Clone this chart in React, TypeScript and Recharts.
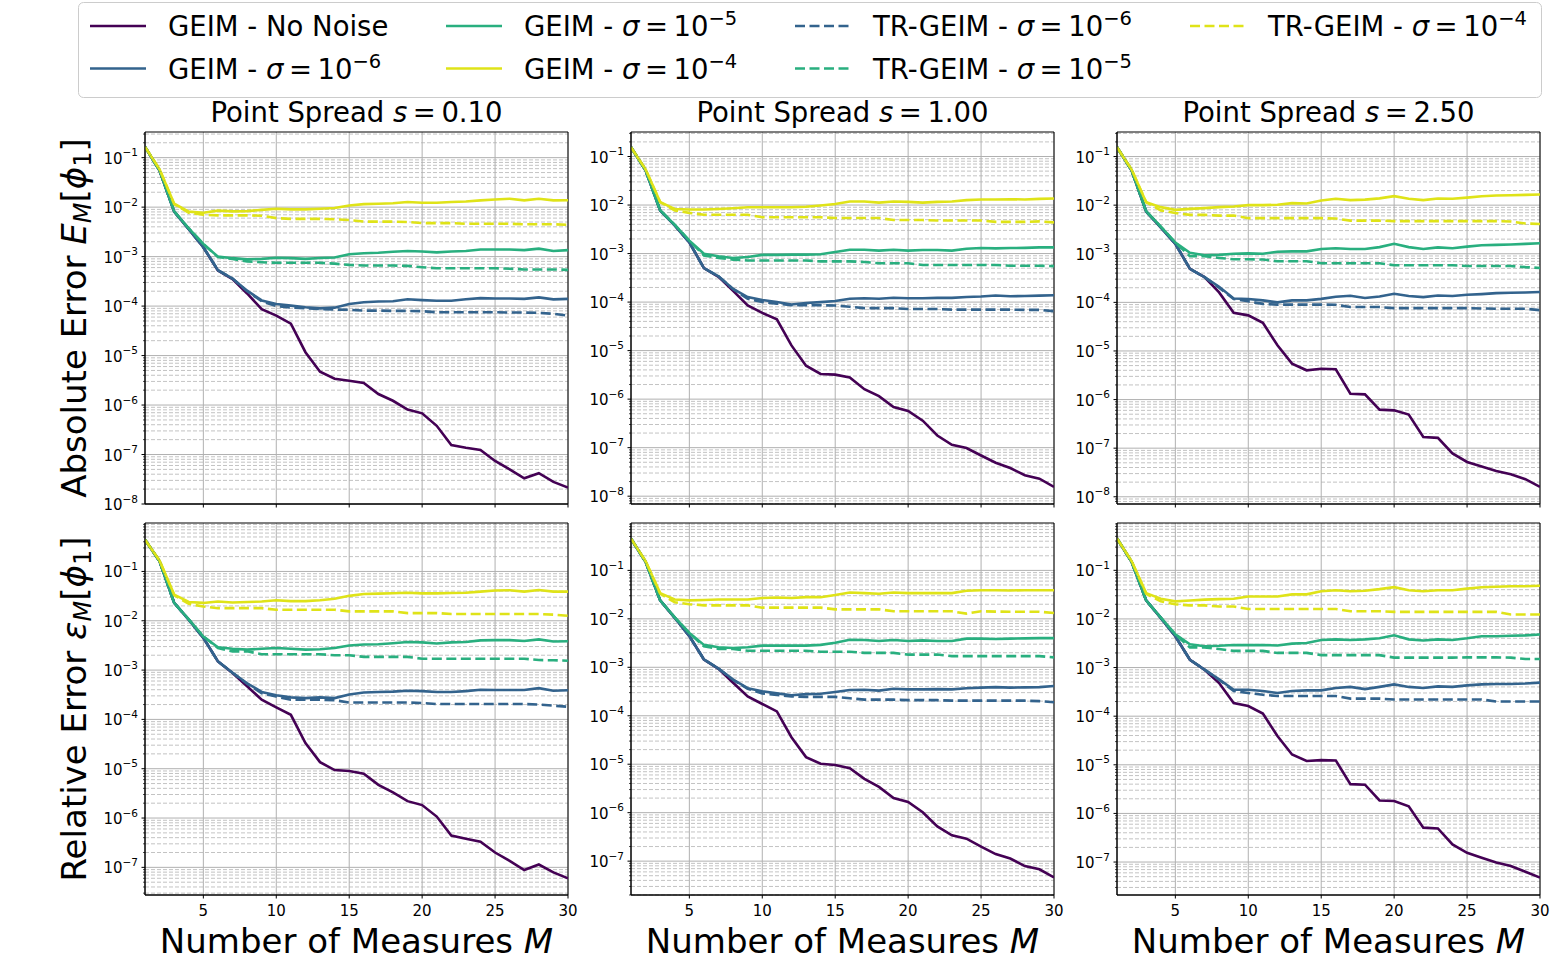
import React from "react";
import { CartesianGrid, Line, LineChart, ReferenceArea, XAxis, YAxis } from "recharts";

const FONT = "'DejaVu Sans', sans-serif";

// number of measures M
const M_VALUES = Array.from({ length: 30 }, (_, i) => i + 1);
const X_TICKS = [5, 10, 15, 20, 25, 30];
const SPREADS = ["0.10", "1.00", "2.50"];

// ---- absolute error, s = 0.10
const abs010NoNoise = [0.165, 0.055, 0.0081, 0.0036, 0.00155, 5.2e-4, 3.5e-4, 1.8e-4, 8.7e-5, 6.4e-5,
  4.4e-5, 1.17e-5, 4.7e-6, 3.4e-6, 3.1e-6, 2.8e-6, 1.67e-6, 1.22e-6, 8.1e-7, 6.8e-7,
  3.8e-7, 1.55e-7, 1.37e-7, 1.23e-7, 7.4e-8, 5.0e-8, 3.3e-8, 4.2e-8, 2.8e-8, 2.15e-8];
const abs010Geim6 = [0.165, 0.055, 0.0081, 0.0036, 0.00155, 5.3e-4, 3.6e-4, 2.05e-4, 1.3e-4, 1.1e-4,
  1.02e-4, 9.5e-5, 9.0e-5, 9.3e-5, 1.1e-4, 1.2e-4, 1.24e-4, 1.25e-4, 1.37e-4, 1.32e-4,
  1.28e-4, 1.28e-4, 1.37e-4, 1.45e-4, 1.42e-4, 1.42e-4, 1.4e-4, 1.5e-4, 1.37e-4, 1.4e-4];
const abs010Geim5 = [0.165, 0.055, 0.0082, 0.0037, 0.0018, 1.0e-3, 9.3e-4, 8.8e-4, 9.0e-4, 9.5e-4,
  9.3e-4, 9.0e-4, 9.4e-4, 9.6e-4, 1.12e-3, 1.17e-3, 1.2e-3, 1.25e-3, 1.3e-3, 1.27e-3,
  1.22e-3, 1.27e-3, 1.3e-3, 1.39e-3, 1.39e-3, 1.39e-3, 1.35e-3, 1.45e-3, 1.3e-3, 1.35e-3];
const abs010Geim4 = [0.165, 0.058, 0.0117, 0.0081, 0.0077, 0.0085, 0.0082, 0.0083, 0.0088, 0.0093,
  0.009, 0.009, 0.0093, 0.0096, 0.0108, 0.0115, 0.0117, 0.012, 0.0127, 0.0123,
  0.0123, 0.0127, 0.013, 0.0137, 0.0143, 0.0148, 0.0137, 0.0148, 0.0137, 0.0138];
const abs010Tr6 = [0.165, 0.055, 0.0081, 0.0036, 0.00155, 5.3e-4, 3.6e-4, 2.0e-4, 1.25e-4, 1.0e-4,
  9.3e-5, 9.0e-5, 8.7e-5, 8.5e-5, 8.4e-5, 8.1e-5, 8.1e-5, 8.0e-5, 8.0e-5, 7.9e-5,
  7.5e-5, 7.5e-5, 7.5e-5, 7.5e-5, 7.5e-5, 7.4e-5, 7.4e-5, 7.3e-5, 7.0e-5, 6.4e-5];
const abs010Tr5 = [0.165, 0.055, 0.0082, 0.0037, 0.0018, 9.8e-4, 9.0e-4, 8.0e-4, 7.7e-4, 7.5e-4,
  7.5e-4, 7.5e-4, 7.5e-4, 7.2e-4, 6.8e-4, 6.6e-4, 6.6e-4, 6.6e-4, 6.5e-4, 6.1e-4,
  5.8e-4, 5.8e-4, 5.8e-4, 5.8e-4, 5.8e-4, 5.7e-4, 5.5e-4, 5.5e-4, 5.5e-4, 5.4e-4];
const abs010Tr4 = [0.165, 0.058, 0.0115, 0.0077, 0.007, 0.0068, 0.0068, 0.0068, 0.0067, 0.006,
  0.0058, 0.0058, 0.0058, 0.0057, 0.0055, 0.0051, 0.0051, 0.0051, 0.005, 0.00475,
  0.00475, 0.00475, 0.0046, 0.0046, 0.0046, 0.0046, 0.0045, 0.0045, 0.0045, 0.0044];

// ---- absolute error, s = 1.00
const abs100NoNoise = [0.155, 0.052, 0.0077, 0.0038, 0.0017, 5.0e-4, 3.3e-4, 1.7e-4, 8.5e-5, 6.0e-5,
  4.4e-5, 1.28e-5, 4.9e-6, 3.3e-6, 3.2e-6, 2.8e-6, 1.6e-6, 1.15e-6, 6.9e-7, 5.7e-7,
  3.6e-7, 1.78e-7, 1.14e-7, 9.8e-8, 6.9e-8, 4.9e-8, 3.8e-8, 2.7e-8, 2.3e-8, 1.55e-8];
const abs100Geim6 = [0.155, 0.052, 0.0077, 0.0038, 0.0017, 5.0e-4, 3.4e-4, 1.87e-4, 1.27e-4, 1.1e-4,
  1.0e-4, 8.9e-5, 9.6e-5, 1.0e-4, 1.05e-4, 1.17e-4, 1.2e-4, 1.17e-4, 1.23e-4, 1.2e-4,
  1.2e-4, 1.22e-4, 1.22e-4, 1.27e-4, 1.3e-4, 1.37e-4, 1.32e-4, 1.33e-4, 1.36e-4, 1.38e-4];
const abs100Geim5 = [0.155, 0.052, 0.0078, 0.0039, 0.00185, 9.9e-4, 8.8e-4, 8.1e-4, 8.5e-4, 9.4e-4,
  9.4e-4, 9.5e-4, 9.5e-4, 9.7e-4, 1.08e-3, 1.2e-3, 1.2e-3, 1.15e-3, 1.2e-3, 1.15e-3,
  1.18e-3, 1.18e-3, 1.15e-3, 1.26e-3, 1.3e-3, 1.28e-3, 1.3e-3, 1.31e-3, 1.34e-3, 1.34e-3];
const abs100Geim4 = [0.155, 0.054, 0.0115, 0.0083, 0.0081, 0.0081, 0.0083, 0.0086, 0.009, 0.009,
  0.009, 0.009, 0.0092, 0.0098, 0.0105, 0.0118, 0.0118, 0.0112, 0.0118, 0.0116,
  0.0112, 0.0116, 0.0118, 0.0126, 0.013, 0.013, 0.0132, 0.013, 0.0134, 0.0136];
const abs100Tr6 = [0.155, 0.052, 0.0077, 0.0038, 0.0017, 5.0e-4, 3.4e-4, 1.85e-4, 1.17e-4, 1.0e-4,
  9.3e-5, 8.6e-5, 8.6e-5, 8.6e-5, 8.5e-5, 8.0e-5, 7.5e-5, 7.5e-5, 7.5e-5, 7.2e-5,
  7.2e-5, 7.2e-5, 7.0e-5, 7.0e-5, 7.0e-5, 7.0e-5, 7.0e-5, 6.9e-5, 6.9e-5, 6.5e-5];
const abs100Tr5 = [0.155, 0.052, 0.0078, 0.0039, 0.00185, 9.1e-4, 8.1e-4, 7.5e-4, 7.2e-4, 7.2e-4,
  7.2e-4, 7.2e-4, 7.2e-4, 6.9e-4, 6.9e-4, 6.9e-4, 6.7e-4, 6.3e-4, 6.3e-4, 6.3e-4,
  5.8e-4, 5.8e-4, 5.8e-4, 5.8e-4, 5.8e-4, 5.8e-4, 5.6e-4, 5.6e-4, 5.6e-4, 5.5e-4];
const abs100Tr4 = [0.155, 0.054, 0.0115, 0.0077, 0.0069, 0.0063, 0.0063, 0.0063, 0.0063, 0.0056,
  0.0056, 0.0056, 0.0056, 0.0056, 0.0054, 0.0054, 0.0054, 0.0054, 0.0049, 0.0049,
  0.0049, 0.0048, 0.0048, 0.0048, 0.0048, 0.0045, 0.0045, 0.0045, 0.0046, 0.0044];

// ---- absolute error, s = 2.50
const abs250NoNoise = [0.155, 0.052, 0.0074, 0.0035, 0.0016, 4.9e-4, 3.3e-4, 1.6e-4, 6.1e-5, 5.4e-5,
  3.8e-5, 1.31e-5, 5.5e-6, 4.0e-6, 4.3e-6, 4.2e-6, 1.32e-6, 1.28e-6, 6.2e-7, 6.0e-7,
  4.9e-7, 1.7e-7, 1.63e-7, 7.8e-8, 5.2e-8, 4.2e-8, 3.4e-8, 2.9e-8, 2.3e-8, 1.6e-8];
const abs250Geim6 = [0.155, 0.052, 0.0074, 0.0035, 0.0016, 4.9e-4, 3.3e-4, 2.1e-4, 1.2e-4, 1.17e-4,
  1.1e-4, 1.0e-4, 1.1e-4, 1.1e-4, 1.18e-4, 1.3e-4, 1.37e-4, 1.23e-4, 1.32e-4, 1.5e-4,
  1.35e-4, 1.28e-4, 1.38e-4, 1.35e-4, 1.43e-4, 1.48e-4, 1.55e-4, 1.58e-4, 1.6e-4, 1.63e-4];
const abs250Geim5 = [0.155, 0.052, 0.0075, 0.0036, 0.0017, 1.05e-3, 9.3e-4, 9.5e-4, 1.0e-3, 1.02e-3,
  1.0e-3, 1.1e-3, 1.12e-3, 1.12e-3, 1.25e-3, 1.3e-3, 1.25e-3, 1.25e-3, 1.37e-3, 1.6e-3,
  1.37e-3, 1.25e-3, 1.35e-3, 1.3e-3, 1.4e-3, 1.5e-3, 1.52e-3, 1.55e-3, 1.6e-3, 1.65e-3];
const abs250Geim4 = [0.155, 0.054, 0.0115, 0.0091, 0.008, 0.0084, 0.0087, 0.0091, 0.0094, 0.01,
  0.01, 0.0102, 0.011, 0.0108, 0.0125, 0.0135, 0.0127, 0.013, 0.0138, 0.0153,
  0.0135, 0.0127, 0.0137, 0.0135, 0.0143, 0.0153, 0.0158, 0.016, 0.0163, 0.0166];
const abs250Tr6 = [0.155, 0.052, 0.0074, 0.0035, 0.0016, 4.9e-4, 3.3e-4, 2.0e-4, 1.17e-4, 1.05e-4,
  9.3e-5, 9.0e-5, 9.0e-5, 9.0e-5, 9.0e-5, 8.9e-5, 8.0e-5, 8.0e-5, 8.0e-5, 7.6e-5,
  7.6e-5, 7.6e-5, 7.6e-5, 7.6e-5, 7.6e-5, 7.5e-5, 7.4e-5, 7.4e-5, 7.4e-5, 6.9e-5];
const abs250Tr5 = [0.155, 0.052, 0.0075, 0.0036, 0.0017, 8.9e-4, 8.9e-4, 8.2e-4, 7.7e-4, 7.7e-4,
  7.6e-4, 7.0e-4, 7.0e-4, 7.0e-4, 6.4e-4, 6.4e-4, 6.4e-4, 6.4e-4, 6.4e-4, 5.8e-4,
  5.8e-4, 5.8e-4, 5.8e-4, 5.8e-4, 5.6e-4, 5.6e-4, 5.6e-4, 5.6e-4, 5.3e-4, 5.1e-4];
const abs250Tr4 = [0.155, 0.054, 0.0115, 0.0078, 0.0069, 0.0063, 0.0063, 0.0061, 0.0061, 0.0054,
  0.0054, 0.0054, 0.0054, 0.0054, 0.0054, 0.0053, 0.0048, 0.0048, 0.0048, 0.0047,
  0.0047, 0.0047, 0.0047, 0.0047, 0.0047, 0.0047, 0.0047, 0.0046, 0.0042, 0.0041];

// ---- relative error, s = 0.10
const rel010NoNoise = [0.44, 0.16, 0.023, 0.0105, 0.0045, 1.5e-3, 8.7e-4, 4.7e-4, 2.5e-4, 1.75e-4,
  1.24e-4, 3.3e-5, 1.36e-5, 9.4e-6, 9.0e-6, 7.9e-6, 4.7e-6, 3.3e-6, 2.2e-6, 1.83e-6,
  1.07e-6, 4.4e-7, 3.8e-7, 3.3e-7, 2.0e-7, 1.35e-7, 8.8e-8, 1.14e-7, 7.9e-8, 6.0e-8];
const rel010Geim6 = [0.44, 0.16, 0.023, 0.0105, 0.0045, 1.5e-3, 8.8e-4, 5.4e-4, 3.6e-4, 3.1e-4,
  2.8e-4, 2.7e-4, 2.8e-4, 2.7e-4, 3.2e-4, 3.5e-4, 3.6e-4, 3.65e-4, 3.8e-4, 3.75e-4,
  3.6e-4, 3.6e-4, 3.75e-4, 4.0e-4, 3.95e-4, 3.95e-4, 3.95e-4, 4.3e-4, 3.8e-4, 3.9e-4];
const rel010Geim5 = [0.44, 0.16, 0.023, 0.0107, 0.0048, 2.9e-3, 2.7e-3, 2.6e-3, 2.7e-3, 2.8e-3,
  2.7e-3, 2.6e-3, 2.65e-3, 2.8e-3, 3.15e-3, 3.3e-3, 3.35e-3, 3.5e-3, 3.7e-3, 3.65e-3,
  3.45e-3, 3.65e-3, 3.7e-3, 4.0e-3, 4.05e-3, 4.05e-3, 3.9e-3, 4.2e-3, 3.8e-3, 3.85e-3];
const rel010Geim4 = [0.44, 0.165, 0.034, 0.024, 0.023, 0.0245, 0.0235, 0.024, 0.0245, 0.026,
  0.025, 0.025, 0.026, 0.028, 0.032, 0.035, 0.0355, 0.036, 0.037, 0.036,
  0.036, 0.0365, 0.037, 0.039, 0.041, 0.0415, 0.039, 0.042, 0.039, 0.039];
const rel010Tr6 = [0.44, 0.16, 0.023, 0.0105, 0.0045, 1.5e-3, 8.8e-4, 5.3e-4, 3.4e-4, 2.9e-4,
  2.5e-4, 2.5e-4, 2.5e-4, 2.45e-4, 2.2e-4, 2.2e-4, 2.2e-4, 2.2e-4, 2.2e-4, 2.15e-4,
  2.05e-4, 2.05e-4, 2.05e-4, 2.05e-4, 2.05e-4, 2.05e-4, 2.05e-4, 2.0e-4, 1.9e-4, 1.8e-4];
const rel010Tr5 = [0.44, 0.16, 0.023, 0.0107, 0.0048, 2.8e-3, 2.4e-3, 2.4e-3, 2.1e-3, 2.1e-3,
  2.1e-3, 2.1e-3, 2.1e-3, 2.0e-3, 2.0e-3, 1.85e-3, 1.85e-3, 1.85e-3, 1.85e-3, 1.7e-3,
  1.7e-3, 1.7e-3, 1.7e-3, 1.7e-3, 1.7e-3, 1.7e-3, 1.7e-3, 1.6e-3, 1.58e-3, 1.55e-3];
const rel010Tr4 = [0.44, 0.165, 0.033, 0.022, 0.0195, 0.018, 0.018, 0.018, 0.018, 0.0167,
  0.0167, 0.0167, 0.0167, 0.0167, 0.0155, 0.0155, 0.0155, 0.0155, 0.0143, 0.0143,
  0.0143, 0.0137, 0.0137, 0.0137, 0.0137, 0.0137, 0.0137, 0.0137, 0.0133, 0.0126];

// ---- relative error, s = 1.00
const rel100NoNoise = [0.45, 0.15, 0.024, 0.0105, 0.0044, 1.45e-3, 9.3e-4, 4.8e-4, 2.5e-4, 1.75e-4,
  1.23e-4, 3.6e-5, 1.4e-5, 1.02e-5, 9.6e-6, 8.3e-6, 5.0e-6, 3.4e-6, 2.0e-6, 1.66e-6,
  1.02e-6, 5.2e-7, 3.4e-7, 2.9e-7, 2.0e-7, 1.4e-7, 1.13e-7, 7.9e-8, 6.8e-8, 4.6e-8];
const rel100Geim6 = [0.45, 0.15, 0.024, 0.0105, 0.0044, 1.45e-3, 9.4e-4, 5.6e-4, 3.7e-4, 3.2e-4,
  2.9e-4, 2.65e-4, 2.8e-4, 2.85e-4, 3.1e-4, 3.4e-4, 3.45e-4, 3.3e-4, 3.6e-4, 3.5e-4,
  3.5e-4, 3.55e-4, 3.5e-4, 3.7e-4, 3.8e-4, 3.9e-4, 3.8e-4, 3.85e-4, 3.9e-4, 4.1e-4];
const rel100Geim5 = [0.45, 0.15, 0.024, 0.0107, 0.0051, 2.9e-3, 2.6e-3, 2.5e-3, 2.6e-3, 2.8e-3,
  2.8e-3, 2.8e-3, 2.8e-3, 2.9e-3, 3.2e-3, 3.7e-3, 3.65e-3, 3.5e-3, 3.65e-3, 3.5e-3,
  3.6e-3, 3.5e-3, 3.5e-3, 3.9e-3, 3.9e-3, 3.85e-3, 3.9e-3, 3.95e-3, 4.0e-3, 4.0e-3];
const rel100Geim4 = [0.45, 0.155, 0.034, 0.025, 0.024, 0.0245, 0.025, 0.025, 0.025, 0.027,
  0.0275, 0.027, 0.028, 0.028, 0.031, 0.035, 0.034, 0.033, 0.035, 0.034,
  0.034, 0.034, 0.034, 0.038, 0.039, 0.039, 0.0385, 0.039, 0.039, 0.039];
const rel100Tr6 = [0.45, 0.15, 0.024, 0.0105, 0.0044, 1.45e-3, 9.4e-4, 5.5e-4, 3.6e-4, 2.9e-4,
  2.7e-4, 2.5e-4, 2.45e-4, 2.45e-4, 2.45e-4, 2.3e-4, 2.15e-4, 2.15e-4, 2.15e-4, 2.1e-4,
  2.1e-4, 2.1e-4, 2.05e-4, 2.05e-4, 2.05e-4, 2.05e-4, 2.05e-4, 2.05e-4, 2.0e-4, 1.9e-4];
const rel100Tr5 = [0.45, 0.15, 0.024, 0.0107, 0.0051, 2.7e-3, 2.4e-3, 2.4e-3, 2.2e-3, 2.2e-3,
  2.2e-3, 2.2e-3, 2.2e-3, 2.1e-3, 2.1e-3, 2.1e-3, 1.98e-3, 1.98e-3, 1.98e-3, 1.83e-3,
  1.83e-3, 1.83e-3, 1.7e-3, 1.7e-3, 1.7e-3, 1.7e-3, 1.7e-3, 1.7e-3, 1.7e-3, 1.6e-3];
const rel100Tr4 = [0.45, 0.155, 0.033, 0.022, 0.02, 0.019, 0.019, 0.019, 0.019, 0.017,
  0.017, 0.017, 0.017, 0.017, 0.0157, 0.0157, 0.0157, 0.0157, 0.0143, 0.0143,
  0.0143, 0.0143, 0.0143, 0.0128, 0.0143, 0.0141, 0.014, 0.014, 0.014, 0.0132];

// ---- relative error, s = 2.50
const rel250NoNoise = [0.45, 0.15, 0.024, 0.0105, 0.0044, 1.45e-3, 9.0e-4, 4.8e-4, 1.87e-4, 1.62e-4,
  1.13e-4, 3.9e-5, 1.63e-5, 1.2e-5, 1.25e-5, 1.23e-5, 4.0e-6, 3.9e-6, 1.85e-6, 1.8e-6,
  1.4e-6, 5.1e-7, 4.9e-7, 2.3e-7, 1.55e-7, 1.23e-7, 9.8e-8, 8.3e-8, 6.3e-8, 4.8e-8];
const rel250Geim6 = [0.45, 0.15, 0.024, 0.0105, 0.0044, 1.45e-3, 9.1e-4, 5.7e-4, 3.5e-4, 3.5e-4,
  3.3e-4, 3.0e-4, 3.3e-4, 3.4e-4, 3.4e-4, 3.8e-4, 4.0e-4, 3.6e-4, 4.0e-4, 4.5e-4,
  4.0e-4, 3.8e-4, 4.1e-4, 4.0e-4, 4.3e-4, 4.5e-4, 4.6e-4, 4.6e-4, 4.7e-4, 4.9e-4];
const rel250Geim5 = [0.45, 0.15, 0.024, 0.0107, 0.0048, 3.0e-3, 2.75e-3, 2.8e-3, 2.9e-3, 2.9e-3,
  2.9e-3, 2.85e-3, 3.1e-3, 3.2e-3, 3.7e-3, 3.8e-3, 3.7e-3, 3.8e-3, 4.0e-3, 4.6e-3,
  3.8e-3, 3.6e-3, 3.8e-3, 3.7e-3, 4.0e-3, 4.4e-3, 4.4e-3, 4.5e-3, 4.6e-3, 4.8e-3];
const rel250Geim4 = [0.45, 0.155, 0.034, 0.026, 0.023, 0.024, 0.025, 0.0255, 0.026, 0.029,
  0.029, 0.029, 0.032, 0.032, 0.037, 0.039, 0.037, 0.038, 0.041, 0.045,
  0.039, 0.037, 0.039, 0.039, 0.042, 0.045, 0.046, 0.047, 0.047, 0.048];
const rel250Tr6 = [0.45, 0.15, 0.024, 0.0105, 0.0044, 1.45e-3, 9.1e-4, 5.6e-4, 3.3e-4, 3.0e-4,
  2.75e-4, 2.6e-4, 2.6e-4, 2.6e-4, 2.6e-4, 2.6e-4, 2.3e-4, 2.3e-4, 2.3e-4, 2.2e-4,
  2.2e-4, 2.2e-4, 2.2e-4, 2.2e-4, 2.2e-4, 2.2e-4, 2.0e-4, 2.0e-4, 2.0e-4, 2.0e-4];
const rel250Tr5 = [0.45, 0.15, 0.024, 0.0107, 0.0048, 2.6e-3, 2.6e-3, 2.4e-3, 2.2e-3, 2.2e-3,
  2.2e-3, 2.0e-3, 2.0e-3, 2.0e-3, 1.8e-3, 1.8e-3, 1.8e-3, 1.8e-3, 1.8e-3, 1.6e-3,
  1.6e-3, 1.6e-3, 1.6e-3, 1.6e-3, 1.62e-3, 1.62e-3, 1.62e-3, 1.6e-3, 1.5e-3, 1.5e-3];
const rel250Tr4 = [0.45, 0.155, 0.033, 0.023, 0.02, 0.019, 0.019, 0.018, 0.018, 0.016,
  0.016, 0.016, 0.016, 0.016, 0.016, 0.016, 0.0144, 0.0144, 0.0144, 0.014,
  0.014, 0.014, 0.014, 0.014, 0.014, 0.014, 0.014, 0.0123, 0.0123, 0.0123];

// series order = plotting order = legend order (column-major, 4 cols x 2 rows)
const SERIES = [
  { key: "noNoise", method: "GEIM", exp: null, color: "#440154", dashed: false },
  { key: "geim6", method: "GEIM", exp: 6, color: "#33638d", dashed: false },
  { key: "geim5", method: "GEIM", exp: 5, color: "#29af7f", dashed: false },
  { key: "geim4", method: "GEIM", exp: 4, color: "#dfe318", dashed: false },
  { key: "tr6", method: "TR-GEIM", exp: 6, color: "#33638d", dashed: true },
  { key: "tr5", method: "TR-GEIM", exp: 5, color: "#29af7f", dashed: true },
  { key: "tr4", method: "TR-GEIM", exp: 4, color: "#dfe318", dashed: true },
];

// layout
const PLOT_W = 423;
const PLOT_H = 372;
const COL_LEFT = [145, 631, 1117];
const ROW_TOP = [132, 523];
const YW = 62;
const XH = 36;
const PAD = 6;
const PAD_R = 14;
const TICK = 3.5;
const TICK_PAD = 3.5;
const THIN = "\u2009";

const PANELS = [
  { row: 0, col: 0, domain: [1e-8, 0.33], data: { noNoise: abs010NoNoise, geim6: abs010Geim6, geim5: abs010Geim5, geim4: abs010Geim4, tr6: abs010Tr6, tr5: abs010Tr5, tr4: abs010Tr4 } },
  { row: 0, col: 1, domain: [6.9e-9, 0.32], data: { noNoise: abs100NoNoise, geim6: abs100Geim6, geim5: abs100Geim5, geim4: abs100Geim4, tr6: abs100Tr6, tr5: abs100Tr5, tr4: abs100Tr4 } },
  { row: 0, col: 2, domain: [7.1e-9, 0.32], data: { noNoise: abs250NoNoise, geim6: abs250Geim6, geim5: abs250Geim5, geim4: abs250Geim4, tr6: abs250Tr6, tr5: abs250Tr5, tr4: abs250Tr4 } },
  { row: 1, col: 0, domain: [2.75e-8, 0.96], data: { noNoise: rel010NoNoise, geim6: rel010Geim6, geim5: rel010Geim5, geim4: rel010Geim4, tr6: rel010Tr6, tr5: rel010Tr5, tr4: rel010Tr4 } },
  { row: 1, col: 1, domain: [2.0e-8, 0.95], data: { noNoise: rel100NoNoise, geim6: rel100Geim6, geim5: rel100Geim5, geim4: rel100Geim4, tr6: rel100Tr6, tr5: rel100Tr5, tr4: rel100Tr4 } },
  { row: 1, col: 2, domain: [2.1e-8, 0.94], data: { noNoise: rel250NoNoise, geim6: rel250Geim6, geim5: rel250Geim5, geim4: rel250Geim4, tr6: rel250Tr6, tr5: rel250Tr5, tr4: rel250Tr4 } },
];

function logTicks(lo: number, hi: number) {
  const majors: number[] = [];
  const minors: number[] = [];
  for (let k = Math.floor(Math.log10(lo)); k <= Math.ceil(Math.log10(hi)); k++) {
    for (let m = 1; m <= 9; m++) {
      const v = Number((m * Math.pow(10, k)).toPrecision(3));
      if (v < lo * 0.9999 || v > hi * 1.0001) continue;
      (m === 1 ? majors : minors).push(v);
    }
  }
  return { majors, minors };
}

function YTick(props: any) {
  const { x, y, payload } = props;
  const v = payload.value;
  const lg = Math.log10(v);
  const e = Math.round(lg);
  const major = Math.abs(lg - e) < 1e-6;
  const axisX = x + TICK + TICK_PAD;
  return (
    <g>
      <line x1={axisX} x2={axisX - (major ? TICK : 2)} y1={y} y2={y} stroke="#000" strokeWidth={major ? 1 : 0.7} />
      {major && (
        <text x={x} y={y + 6} textAnchor="end" fontSize={15} fill="#000" fontFamily={FONT}>
          10<tspan dy={-7.5} fontSize={10.5}>{"\u2212" + Math.abs(e)}</tspan>
        </text>
      )}
    </g>
  );
}

const NoTick = () => <g />;

function Panel({ p }: { p: (typeof PANELS)[number] }) {
  const rows = M_VALUES.map((m, i) => {
    const r: Record<string, number> = { m };
    SERIES.forEach((s) => (r[s.key] = (p.data as any)[s.key][i]));
    return r;
  });
  const [lo, hi] = p.domain;
  const { majors, minors } = logTicks(lo, hi);
  const bottomRow = p.row === 1;
  return (
    <div style={{ position: "absolute", left: COL_LEFT[p.col] - YW, top: ROW_TOP[p.row] - PAD }}>
      <LineChart
        width={YW + PLOT_W + PAD_R}
        height={PAD + PLOT_H + XH}
        data={rows}
        margin={{ top: PAD, right: PAD_R, bottom: 0, left: 0 }}
      >
        <CartesianGrid horizontalValues={minors} vertical={false} stroke="#b4b4b4" strokeWidth={0.8} strokeDasharray="4 2" />
        <CartesianGrid horizontalValues={majors} verticalValues={X_TICKS} stroke="#b0b0b0" strokeWidth={1} />
        <XAxis
          dataKey="m"
          type="number"
          domain={[1, 30]}
          ticks={X_TICKS}
          interval={0}
          height={XH}
          tickSize={TICK}
          tickMargin={7}
          stroke="#000"
          tick={bottomRow ? { fill: "#000", fontSize: 15, fontFamily: FONT } : NoTick}
          allowDataOverflow
        />
        <YAxis
          type="number"
          scale="log"
          domain={[lo, hi]}
          allowDataOverflow
          ticks={[...majors, ...minors]}
          interval={0}
          width={YW}
          tickSize={TICK}
          tickMargin={TICK_PAD}
          tickLine={false}
          stroke="#000"
          tick={<YTick />}
        />
        {SERIES.map((s) => (
          <Line
            key={s.key}
            type="linear"
            dataKey={s.key}
            stroke={s.color}
            strokeWidth={2.6}
            strokeDasharray={s.dashed ? "10 4.5" : undefined}
            dot={false}
            activeDot={false}
            isAnimationActive={false}
          />
        ))}
        <ReferenceArea x1={1} x2={30} y1={lo} y2={hi} fill="none" stroke="#000" strokeWidth={1} ifOverflow="visible" />
      </LineChart>
    </div>
  );
}

function SeriesLabel({ s }: { s: (typeof SERIES)[number] }) {
  if (s.exp === null) return <>{s.method} - No Noise</>;
  return (
    <>
      {s.method} - <tspan fontStyle="italic">σ</tspan>{THIN}={THIN}10
      <tspan dy={-11} fontSize={19.5}>{"\u2212" + s.exp}</tspan>
    </>
  );
}

const LEGEND_TEXT_X = [168, 524, 873, 1268];
const LEGEND_ROW_Y = [26, 68.5];

function Overlay() {
  return (
    <svg width={1558} height={969} style={{ position: "absolute", left: 0, top: 0, pointerEvents: "none" }} fontFamily={FONT}>
      <rect x={78.5} y={2.5} width={1463} height={95} rx={5} fill="#fff" stroke="#cccccc" strokeWidth={1} />
      {SERIES.map((s, i) => {
        const tx = LEGEND_TEXT_X[Math.floor(i / 2)];
        const ty = LEGEND_ROW_Y[i % 2];
        return (
          <g key={s.key}>
            <line x1={tx - 78} x2={tx - 22} y1={ty} y2={ty} stroke={s.color} strokeWidth={2.6} strokeDasharray={s.dashed ? "10 4.5" : undefined} />
            <text x={tx} y={ty + 10} fontSize={27.5} fill="#000">
              <SeriesLabel s={s} />
            </text>
          </g>
        );
      })}
      {SPREADS.map((sp, c) => (
        <text key={"t" + c} x={COL_LEFT[c] + PLOT_W / 2} y={122} textAnchor="middle" fontSize={27.5} fill="#000">
          Point Spread <tspan fontStyle="italic">s</tspan>{THIN}={THIN}{sp}
        </text>
      ))}
      {COL_LEFT.map((l, c) => (
        <text key={"x" + c} x={l + PLOT_W / 2} y={953} textAnchor="middle" fontSize={34} fill="#000">
          Number of Measures <tspan fontStyle="italic">M</tspan>
        </text>
      ))}
      <text transform={`translate(86, ${ROW_TOP[0] + PLOT_H / 2}) rotate(-90)`} textAnchor="middle" fontSize={34} fill="#000">
        Absolute Error <tspan fontStyle="italic">E</tspan>
        <tspan fontStyle="italic" fontSize={24} dy={5}>M</tspan>
        <tspan dy={-5}>[</tspan>
        <tspan fontStyle="italic">ϕ</tspan>
        <tspan fontSize={24} dy={5}>1</tspan>
        <tspan dy={-5}>]</tspan>
      </text>
      <text transform={`translate(86, ${ROW_TOP[1] + PLOT_H / 2}) rotate(-90)`} textAnchor="middle" fontSize={34} fill="#000">
        Relative Error <tspan fontStyle="italic">ε</tspan>
        <tspan fontStyle="italic" fontSize={24} dy={5}>M</tspan>
        <tspan dy={-5}>[</tspan>
        <tspan fontStyle="italic">ϕ</tspan>
        <tspan fontSize={24} dy={5}>1</tspan>
        <tspan dy={-5}>]</tspan>
      </text>
    </svg>
  );
}

export default function App() {
  return (
    <div style={{ position: "absolute", left: 0, top: 0, width: 1558, height: 969, background: "#fff", fontFamily: FONT }}>
      <Overlay />
      {PANELS.map((p, i) => (
        <Panel key={i} p={p} />
      ))}
    </div>
  );
}
